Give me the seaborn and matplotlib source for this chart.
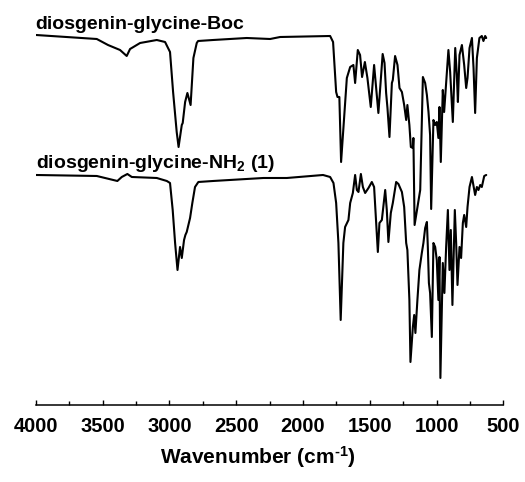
import matplotlib
matplotlib.use("Agg")
import matplotlib.pyplot as plt
from matplotlib.ticker import MultipleLocator
import seaborn as sns
import pandas as pd

# ---- data ----
boc_wavenumber = [3998, 3543, 3459, 3369, 3319, 3294, 3219, 3094, 3032, 2995, 2972, 2945, 2931,
                  2907, 2900, 2882, 2865, 2841, 2820, 2795, 2785, 2673, 2421, 2246, 2171, 1797,
                  1775, 1752, 1742, 1728, 1715, 1672, 1647, 1623, 1610, 1590, 1573, 1558, 1537,
                  1518, 1493, 1468, 1436, 1404, 1390, 1378, 1368, 1353, 1335, 1328, 1311, 1293,
                  1278, 1260, 1243, 1228, 1219, 1204, 1193, 1178, 1174, 1165, 1123, 1103, 1086,
                  1073, 1061, 1049, 1041, 1024, 1011, 999, 987, 979, 969, 954, 944, 929, 912,
                  899, 891, 879, 861, 849, 841, 829, 811, 794, 779, 769, 754, 736, 724, 712,
                  699, 680, 662, 650, 637, 629]
boc_transmittance = [370, 366, 360, 355, 349, 356, 362, 365, 363, 353, 313, 273, 258,
                     280, 282, 303, 312, 300, 347, 362, 364, 365, 367, 366, 368, 369,
                     363, 313, 308, 308, 243, 327, 338, 340, 322, 355, 350, 328, 343,
                     327, 298, 340, 292, 351, 342, 312, 297, 268, 322, 325, 349, 340,
                     317, 313, 300, 285, 300, 280, 258, 257, 267, 180, 215, 328, 322,
                     310, 293, 270, 196, 285, 280, 283, 267, 298, 243, 315, 293, 322, 355,
                     333, 313, 283, 357, 330, 303, 350, 360, 340, 317, 327, 357, 367, 337, 292,
                     347, 367, 369, 364, 369, 367]

nh2_wavenumber = [3998, 3543, 3389, 3356, 3314, 3281, 3094, 3019, 2995, 2975, 2957, 2939, 2920,
                  2907, 2890, 2880, 2870, 2845, 2828, 2808, 2783, 2673, 2296, 2121, 1850, 1797,
                  1772, 1752, 1735, 1718, 1698, 1685, 1660, 1647, 1627, 1610, 1597, 1585, 1567,
                  1552, 1535, 1510, 1485, 1468, 1440, 1428, 1410, 1385, 1373, 1361, 1343, 1328,
                  1303, 1286, 1260, 1243, 1228, 1219, 1204, 1196, 1178, 1168, 1159, 1144, 1129,
                  1111, 1099, 1086, 1073, 1066, 1058, 1049, 1036, 1024, 1011, 999, 987, 979,
                  972, 954, 942, 929, 916, 904, 894, 882, 864, 854, 844, 829, 817, 804, 794,
                  779, 769, 754, 736, 724, 712, 699, 687, 674, 662, 644, 629]
nh2_transmittance = [230, 229, 224, 228, 231, 228, 227, 224, 222, 195, 162, 135, 158,
                     147, 165, 170, 173, 187, 202, 218, 223, 224, 227, 227, 230, 228,
                     222, 202, 162, 85, 162, 178, 185, 202, 212, 230, 215, 213, 231,
                     218, 212, 217, 223, 218, 153, 182, 185, 215, 195, 163, 192, 202,
                     223, 221, 213, 198, 162, 155, 105, 43, 78, 90, 72, 105, 135,
                     152, 162, 177, 183, 158, 122, 112, 68, 162, 158, 145, 105, 148,
                     27, 142, 112, 158, 195, 135, 175, 100, 195, 162, 120, 158, 147, 182, 190,
                     178, 198, 218, 228, 219, 210, 218, 215, 220, 218, 229, 230]

series_labels = ["diosgenin-glycine-Boc", r"diosgenin-glycine-NH$_{2}$ (1)"]
x_ticks = [4000, 3500, 3000, 2500, 2000, 1500, 1000, 500]

# ---- style ----
sns.set_theme(style="white")
plt.rcParams["font.family"] = ["Liberation Sans", "DejaVu Sans"]
plt.rcParams["font.weight"] = "bold"
plt.rcParams["text.color"] = "black"
plt.rcParams["xtick.color"] = "black"
plt.rcParams["xtick.labelcolor"] = "black"
plt.rcParams["axes.labelcolor"] = "black"
plt.rcParams["mathtext.fontset"] = "custom"
plt.rcParams["mathtext.rm"] = "Liberation Sans:bold"
plt.rcParams["mathtext.bf"] = "Liberation Sans:bold"
plt.rcParams["mathtext.it"] = "Liberation Sans:bold"
plt.rcParams["mathtext.default"] = "bf"

fig = plt.figure(figsize=(5.25, 4.82), dpi=100)
ax = fig.add_axes([0.068, 0.1598, 0.891, 0.8402])

df_boc = pd.DataFrame({"w": boc_wavenumber, "t": boc_transmittance})
df_nh2 = pd.DataFrame({"w": nh2_wavenumber, "t": nh2_transmittance})
sns.lineplot(data=df_boc, x="w", y="t", ax=ax, color="black", linewidth=1.5,
             estimator=None, sort=False)
sns.lineplot(data=df_nh2, x="w", y="t", ax=ax, color="black", linewidth=1.5,
             estimator=None, sort=False)

ax.set_xlim(4000, 500)
ax.set_ylim(0, 405)

ax.text(4000, 376, series_labels[0], ha="left", va="baseline", fontsize=14,
        fontweight="bold", color="black")
ax.text(4000, 236.7, series_labels[1], ha="left", va="baseline", fontsize=14,
        fontweight="bold", color="black")

for s in ["top", "left", "right"]:
    ax.spines[s].set_visible(False)
ax.spines["bottom"].set_color("black")
ax.spines["bottom"].set_linewidth(1.1)

ax.set_xticks(x_ticks)
ax.set_xticklabels([str(v) for v in x_ticks])
ax.xaxis.set_minor_locator(MultipleLocator(250))
ax.tick_params(axis="x", which="major", direction="in", length=3.8, width=1.0,
               color="black", labelsize=14.5, pad=8.5, bottom=True, labelcolor="black")
ax.tick_params(axis="x", which="minor", direction="in", length=3.0, width=1.0,
               color="black", bottom=True)
ax.set_yticks([])
ax.set_ylabel("")
ax.set_xlabel(r"Wavenumber (cm$^{\text{-}1}$)", fontsize=15, fontweight="bold", color="black")
ax.xaxis.set_label_coords(0.474, -0.097)
for lab in ax.get_xticklabels():
    lab.set_fontweight("bold")

fig.savefig("out.png", dpi=100, facecolor="white")
